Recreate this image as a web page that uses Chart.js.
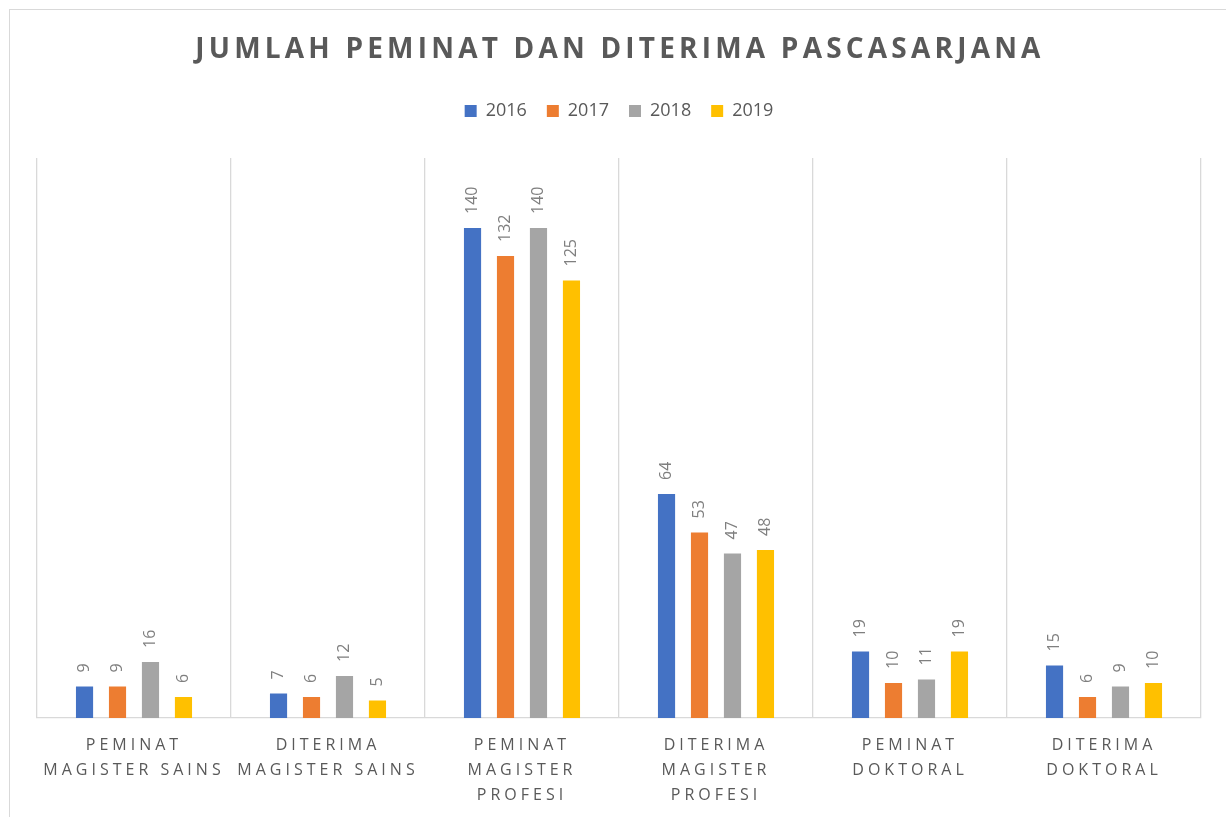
<!DOCTYPE html>
<html>
<head>
<meta charset="utf-8">
<script src="https://cdn.jsdelivr.net/npm/chart.js@4"></script>
<style>
  html, body { margin: 0; padding: 0; background: #fff; }
  #wrap { position: relative; width: 1226px; height: 817px; overflow: hidden; }
  #frame { position: absolute; left: 9px; top: 9px; width: 1240px; height: 840px; border: 1px solid #d9d9d9; }
  canvas { position: absolute; left: 0; top: 0; }
</style>
</head>
<body>
<div id="wrap">
  <div id="frame"></div>
  <canvas id="chart" width="1226" height="817"></canvas>
</div>
<script>
const categories = [
  ["PEMINAT", "MAGISTER SAINS"],
  ["DITERIMA", "MAGISTER SAINS"],
  ["PEMINAT", "MAGISTER", "PROFESI"],
  ["DITERIMA", "MAGISTER", "PROFESI"],
  ["PEMINAT", "DOKTORAL"],
  ["DITERIMA", "DOKTORAL"],
];
const years = ["2016", "2017", "2018", "2019"];
const values2016 = [9, 7, 140, 64, 19, 15];
const values2017 = [9, 6, 132, 53, 10, 6];
const values2018 = [16, 12, 140, 47, 11, 9];
const values2019 = [6, 5, 125, 48, 19, 10];
const colors = ["#4472c4", "#ed7d31", "#a5a5a5", "#ffc000"];
const chartTitle = "JUMLAH PEMINAT DAN DITERIMA PASCASARJANA";

const textGray = "#595959";
const fontFamily = '"Open Sans", "DejaVu Sans", sans-serif';

// extra room under the legend
const legendGap = {
  id: "legendGap",
  beforeInit(chart) {
    const fit = chart.legend.fit;
    chart.legend.fit = function () {
      fit.bind(chart.legend)();
      this.height += 28;
    };
  },
};

// value labels, rotated, above each bar
const barLabels = {
  id: "barLabels",
  afterDatasetsDraw(chart) {
    const { ctx } = chart;
    ctx.save();
    ctx.font = `16px ${fontFamily}`;
    ctx.fillStyle = "#7f7f7f";
    ctx.textAlign = "left";
    ctx.textBaseline = "middle";
    chart.data.datasets.forEach((ds, i) => {
      chart.getDatasetMeta(i).data.forEach((bar, j) => {
        ctx.save();
        ctx.translate(bar.x, bar.y - 14);
        ctx.rotate(-Math.PI / 2);
        ctx.fillText(String(ds.data[j]), 0, 0);
        ctx.restore();
      });
    });
    ctx.restore();
  },
};

// title and category labels with letter spacing
const spacedText = {
  id: "spacedText",
  afterDraw(chart) {
    const { ctx, chartArea } = chart;
    ctx.save();
    ctx.fillStyle = textGray;
    ctx.textAlign = "center";
    ctx.textBaseline = "middle";

    ctx.font = `bold 28px ${fontFamily}`;
    ctx.letterSpacing = "4.2px";
    ctx.fillText(chartTitle, 620, 50);

    const x = chart.scales.x;
    ctx.font = `16px ${fontFamily}`;
    ctx.letterSpacing = "4px";
    categories.forEach((lines, i) => {
      const cx = x.getPixelForValue(i);
      lines.forEach((line, k) => {
        ctx.fillText(line, cx, chartArea.bottom + 27 + k * 25);
      });
    });
    ctx.restore();
  },
};

const makeDataset = (label, data, color) => ({
  label,
  data,
  backgroundColor: color,
  categoryPercentage: 0.68,
  barPercentage: 0.52,
});

new Chart(document.getElementById("chart"), {
  type: "bar",
  data: {
    labels: categories.map((c) => c.join(" ")),
    datasets: [
      makeDataset(years[0], values2016, colors[0]),
      makeDataset(years[1], values2017, colors[1]),
      makeDataset(years[2], values2018, colors[2]),
      makeDataset(years[3], values2019, colors[3]),
    ],
  },
  options: {
    responsive: false,
    animation: false,
    layout: {
      padding: { top: 82, left: 37, right: 25, bottom: 99 },
    },
    plugins: {
      title: { display: false },
      tooltip: { enabled: false },
      legend: {
        display: true,
        position: "top",
        labels: {
          color: textGray,
          font: { family: fontFamily, size: 18 },
          boxWidth: 12,
          boxHeight: 12,
          padding: 20,
        },
      },
    },
    scales: {
      x: {
        grid: { display: true, offset: true, color: "#d9d9d9", lineWidth: 1.3, drawTicks: false },
        border: { display: true, color: "#d9d9d9", width: 1.3 },
        ticks: { display: false },
      },
      y: {
        display: false,
        min: 0,
        max: 160,
      },
    },
  },
  plugins: [legendGap, barLabels, spacedText],
});
</script>
</body>
</html>
